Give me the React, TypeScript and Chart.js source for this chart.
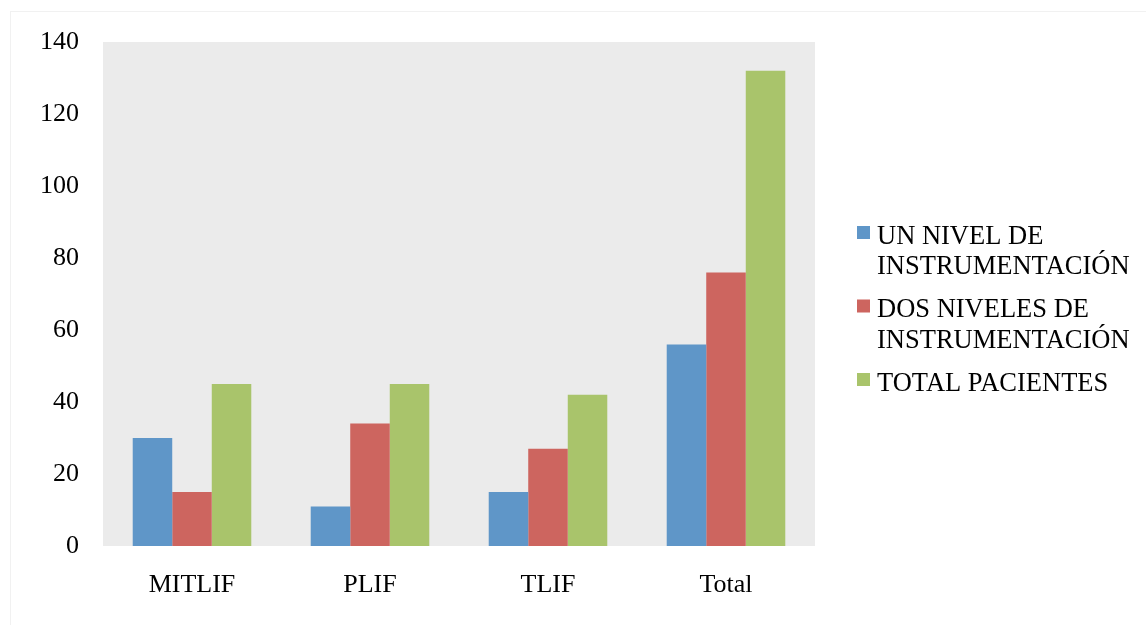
import React, { useEffect, useRef } from "react";
import { Chart, registerables } from "chart.js";

Chart.register(...registerables);

// Categories and series values
const categories = ["MITLIF", "PLIF", "TLIF", "Total"];
const seriesLabels = [
  "UN NIVEL DE INSTRUMENTACIÓN",
  "DOS NIVELES DE INSTRUMENTACIÓN",
  "TOTAL PACIENTES",
];
const unNivel = [30, 11, 15, 56];
const dosNiveles = [15, 34, 27, 76];
const totalPacientes = [45, 45, 42, 132];
const seriesColors = ["#5F96C8", "#CD655F", "#A9C46B"];

// Y axis range
const yMin = 0;
const yMax = 140;
const yStep = 20;

const W = 1146;
const H = 625;
const FONT = "'Liberation Serif', 'Times New Roman', serif";
const TICK_SIZE = 26;
const LEGEND_SIZE = 26.5;

// Grey plot background and faint outer frame
const backgroundPlugin = {
  id: "plotBackground",
  beforeDraw(chart: any) {
    const { ctx, chartArea } = chart;
    ctx.save();
    ctx.fillStyle = "#ffffff";
    ctx.fillRect(0, 0, chart.width, chart.height);
    ctx.strokeStyle = "#F1F1F1";
    ctx.lineWidth = 1;
    ctx.strokeRect(10.5, 11.5, chart.width + 20, chart.height + 20);
    ctx.fillStyle = "#EBEBEB";
    ctx.fillRect(
      chartArea.left,
      chartArea.top,
      chartArea.right - chartArea.left,
      chartArea.bottom - chartArea.top
    );
    ctx.restore();
  },
};

// Right-hand legend with wrapped labels
function wrapText(ctx: CanvasRenderingContext2D, text: string, maxWidth: number) {
  const words = text.split(" ");
  const lines: string[] = [];
  let line = "";
  for (const w of words) {
    const test = line ? line + " " + w : w;
    if (ctx.measureText(test).width > maxWidth && line) {
      lines.push(line);
      line = w;
    } else {
      line = test;
    }
  }
  if (line) lines.push(line);
  return lines;
}

const legendPlugin = {
  id: "sideLegend",
  afterDraw(chart: any) {
    const { ctx } = chart;
    const boxX = 857;
    const textX = 877;
    const lineHeight = 30.5;
    const itemGap = 12.5;
    let y = 237;
    ctx.save();
    ctx.font = `${LEGEND_SIZE}px ${FONT}`;
    ctx.textBaseline = "middle";
    ctx.textAlign = "left";
    chart.data.datasets.forEach((ds: any) => {
      ctx.fillStyle = ds.backgroundColor;
      ctx.fillRect(boxX, y - 11, 13, 13);
      ctx.fillStyle = "#000000";
      const lines = wrapText(ctx, ds.label, W - textX - 2);
      lines.forEach((ln, i) => {
        ctx.fillText(ln, textX, y + i * lineHeight);
      });
      y += lines.length * lineHeight + itemGap;
    });
    ctx.restore();
  },
};

export default function App() {
  const canvasRef = useRef<HTMLCanvasElement | null>(null);

  useEffect(() => {
    if (!canvasRef.current) return;
    const values = [unNivel, dosNiveles, totalPacientes];
    const chart = new Chart(canvasRef.current, {
      type: "bar",
      data: {
        labels: categories,
        datasets: seriesLabels.map((label, i) => ({
          label,
          data: values[i],
          backgroundColor: seriesColors[i],
          borderWidth: 0,
          categoryPercentage: 0.666,
          barPercentage: 1,
        })),
      },
      options: {
        responsive: false,
        animation: false,
        devicePixelRatio: 1,
        layout: { padding: { left: 0, right: W - 815, top: 42, bottom: 0 } },
        plugins: {
          legend: { display: false },
          tooltip: { enabled: false },
        },
        scales: {
          x: {
            grid: { display: false, drawTicks: false },
            border: { display: false },
            ticks: {
              color: "#000000",
              font: { family: FONT, size: TICK_SIZE },
              padding: 24,
            },
            afterFit(scale: any) {
              scale.height = H - 546;
            },
          },
          y: {
            min: yMin,
            max: yMax,
            grid: { display: false, drawTicks: false },
            border: { display: false },
            ticks: {
              stepSize: yStep,
              color: "#000000",
              font: { family: FONT, size: TICK_SIZE },
              padding: 24,
            },
            afterFit(scale: any) {
              scale.width = 103;
            },
          },
        },
      },
      plugins: [backgroundPlugin, legendPlugin],
    });
    return () => chart.destroy();
  }, []);

  return (
    <div style={{ position: "fixed", left: 0, top: 0, width: W, height: H, background: "#fff" }}>
      <canvas ref={canvasRef} width={W} height={H} style={{ width: W, height: H }} />
    </div>
  );
}
